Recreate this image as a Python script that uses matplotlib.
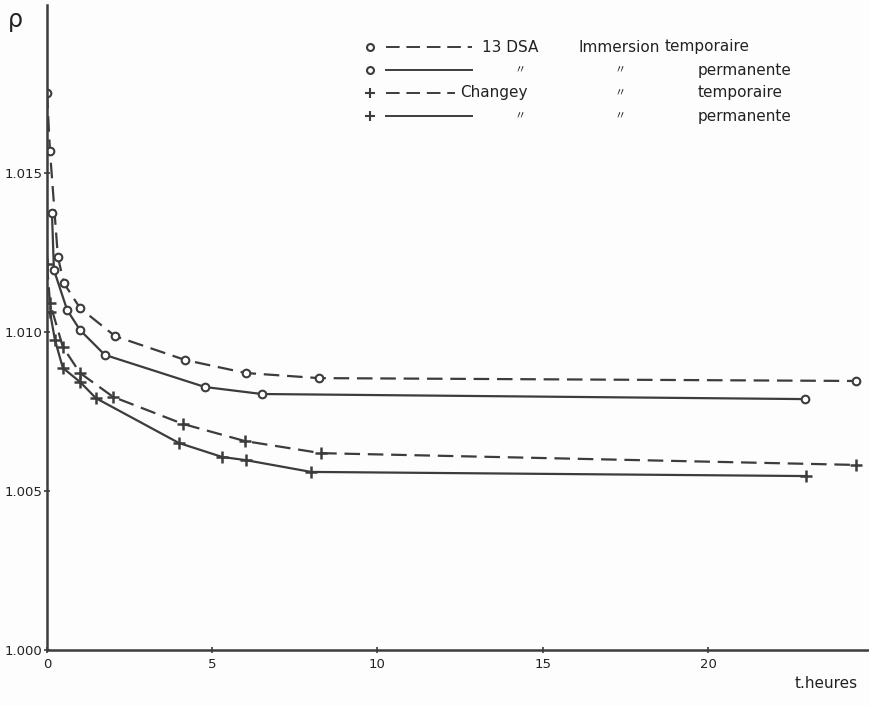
import matplotlib
matplotlib.use("Agg")
import matplotlib.pyplot as plt
from matplotlib.lines import Line2D

# 13 DSA, immersion temporaire (dashed, circles)
t_dsa_temp = [0.0, 0.09, 0.33, 0.51, 1.0, 2.06, 4.18, 6.02, 8.23, 24.48]
rho_dsa_temp = [1.01752, 1.01569, 1.01236, 1.01154, 1.01075, 1.00987, 1.00912, 1.00871, 1.00855, 1.00846]

# 13 DSA, immersion permanente (solid, circles)
t_dsa_perm = [0.15, 0.21, 0.61, 1.0, 1.75, 4.78, 6.5, 22.93]
rho_dsa_perm = [1.01374, 1.01195, 1.01069, 1.01006, 1.00928, 1.00827, 1.00805, 1.00789]

# Changey, immersion temporaire (dashed, plus)
t_ch_temp = [0.0, 0.09, 0.48, 1.0, 2.0, 4.11, 5.99, 8.29, 24.48]
rho_ch_temp = [1.01214, 1.01091, 1.00953, 1.00871, 1.00796, 1.00711, 1.00657, 1.00619, 1.00582]

# Changey, immersion permanente (solid, plus)
t_ch_perm = [0.09, 0.24, 0.48, 1.0, 1.48, 3.99, 5.3, 6.02, 7.99, 22.96]
rho_ch_perm = [1.01063, 1.00975, 1.00887, 1.00843, 1.00792, 1.00651, 1.00607, 1.00597, 1.0056, 1.00547]

x_ticks = [0, 5, 10, 15, 20]
y_ticks = [1.000, 1.005, 1.010, 1.015]
y_labels = ["1.000", "1.005", "1.010", "1.015"]

ink = "#3c3c3c"
W, H = 870, 706

fig = plt.figure(figsize=(8.7, 7.06), dpi=100, facecolor="#fdfdfd")
ax = fig.add_axes([47 / W, 1 - 650 / H, (870 - 47) / W, (650 - 5) / H])
ax.set_facecolor("none")

dash = (0, (7, 3.5))
ax.plot(t_dsa_temp, rho_dsa_temp, color=ink, lw=1.6, ls=dash, marker="o", ms=5.5,
        mfc="white", mec=ink, mew=1.5)
ax.plot(t_dsa_perm, rho_dsa_perm, color=ink, lw=1.6, ls="-", marker="o", ms=5.5,
        mfc="white", mec=ink, mew=1.5)
ax.plot(t_ch_temp, rho_ch_temp, color=ink, lw=1.6, ls=dash, marker="+", ms=9,
        mec=ink, mew=1.8)
ax.plot(t_ch_perm, rho_ch_perm, color=ink, lw=1.6, ls="-", marker="+", ms=9,
        mec=ink, mew=1.8)

ax.set_xlim(0, (870 - 47) / 33.05)
ax.set_ylim(1.0, 1.0 + 645 / 31800)
for s in ["top", "right"]:
    ax.spines[s].set_visible(False)
for s in ["left", "bottom"]:
    ax.spines[s].set_color(ink)
    ax.spines[s].set_linewidth(1.8)

ax.set_xticks(x_ticks)
ax.set_xticklabels([str(v) for v in x_ticks])
ax.set_yticks(y_ticks)
ax.set_yticklabels(y_labels)
ax.tick_params(axis="both", colors=ink, labelcolor="#222222", labelsize=9.5,
               direction="inout", length=5, width=1.2)
ax.tick_params(axis="x", pad=3)
ax.tick_params(axis="y", pad=1)

fig.text(15 / W, 1 - 20 / H, "ρ", fontsize=17, color="#222222", ha="center", va="center")
fig.text(826 / W, 1 - 683 / H, "t.heures", fontsize=11, color="#222222", ha="center", va="center")

# hand-drawn style legend
rows = [47, 70, 93, 116]
mk = ["o", "o", "+", "+"]
ls = [dash, "-", dash, "-"]
line_end = [472, 472, 455, 472]
for y, m, l, xe in zip(rows, mk, ls, line_end):
    fy = 1 - y / H
    fig.add_artist(Line2D([370 / W], [fy], marker=m, color=ink, ms=5 if m == "o" else 7,
                          mfc="white", mew=1.5, ls="none"))
    fig.add_artist(Line2D([386 / W, xe / W], [fy, fy], color=ink, lw=1.4, ls=l))

txt = dict(fontsize=11, color="#222222", va="center")
ditto = dict(txt, fontsize=8, ha="center", family=["Noto Sans CJK JP", "DejaVu Sans"])
fig.text(482 / W, 1 - 47 / H, "13 DSA", **txt)
fig.text(578 / W, 1 - 47 / H, "Immersion", **txt)
fig.text(665 / W, 1 - 47 / H, "temporaire", **txt)
fig.text(520 / W, 1 - 70 / H, "〃", **ditto)
fig.text(620 / W, 1 - 70 / H, "〃", **ditto)
fig.text(698 / W, 1 - 70 / H, "permanente", **txt)
fig.text(460 / W, 1 - 93 / H, "Changey", **txt)
fig.text(620 / W, 1 - 93 / H, "〃", **ditto)
fig.text(698 / W, 1 - 93 / H, "temporaire", **txt)
fig.text(520 / W, 1 - 116 / H, "〃", **ditto)
fig.text(620 / W, 1 - 116 / H, "〃", **ditto)
fig.text(698 / W, 1 - 116 / H, "permanente", **txt)

fig.savefig("out.png", dpi=100, facecolor=fig.get_facecolor())
